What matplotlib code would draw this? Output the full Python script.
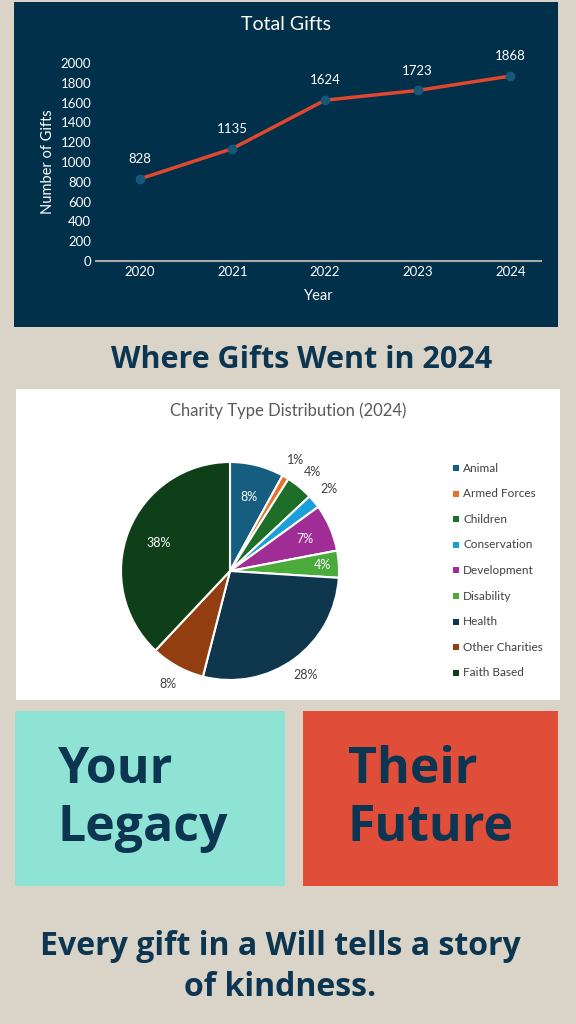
import matplotlib.pyplot as plt
from matplotlib.patches import Rectangle
import numpy as np

years = ["2020", "2021", "2022", "2023", "2024"]
gifts = [828, 1135, 1624, 1723, 1868]
categories = ["Animal", "Armed Forces", "Children", "Conservation", "Development",
              "Disability", "Health", "Other Charities", "Faith Based"]
shares = [8, 1, 4, 2, 7, 4, 28, 8, 38]
colors = ["#155e80", "#e8702a", "#1e6e2a", "#1a9fd8", "#a02c96",
          "#4aaa3a", "#0e374e", "#933e10", "#0f3f18"]

W, H = 576, 1024
fig = plt.figure(figsize=(W/100, H/100), dpi=100)
fig.patch.set_facecolor("#d9d4c7")
navy = "#0b3550"

def box(x, y, w, h, color):
    fig.patches.append(Rectangle((x/W, 1-(y+h)/H), w/W, h/H, transform=fig.transFigure,
                                 facecolor=color, edgecolor="none", zorder=-5))

# line chart panel
box(14, 2, 544, 325, "#01304a")
fig.text(286/W, 1-25/H, "Total Gifts", color="white", fontsize=14, ha="center", va="center", family="Lato")
ax = fig.add_axes([96/W, 1-261/H, 445/W, 198/H])
ax.set_facecolor("#01304a")
x = list(range(len(years)))
ax.plot(x, gifts, color="#e0472f", lw=2.5, marker="o", ms=6, mfc="#17587a", mec="#17587a")
for xi, v in zip(x, gifts):
    ax.annotate(str(v), (xi, v), xytext=(0, 10), textcoords="offset points", ha="center",
                va="bottom", color="white", fontsize=9.5, family="Lato")
ax.set_ylim(0, 2000)
ax.set_xlim(-0.47, 4.33)
ax.set_yticks(range(0, 2001, 200))
ax.set_xticks(x, years)
ax.tick_params(colors="white", labelsize=9.5, length=0)
for lab in ax.get_xticklabels() + ax.get_yticklabels():
    lab.set_family("Lato")
for s in ["top", "right", "left"]:
    ax.spines[s].set_visible(False)
ax.spines["bottom"].set_color("#aaaaaa")
ax.spines["bottom"].set_linewidth(1.5)
ax.set_xlabel("Year", color="white", fontsize=10.5, family="Lato", labelpad=8)
ax.set_ylabel("Number of Gifts", color="white", fontsize=10.5, family="Lato")

fig.text(302/W, 1-360/H, "Where Gifts Went in 2024", color=navy, fontsize=22,
         fontweight="bold", ha="center", va="center", family="Open Sans")

# pie panel
box(16, 389, 544, 311, "white")
fig.text(288/W, 1-411/H, "Charity Type Distribution (2024)", color="#595959", fontsize=12,
         ha="center", va="center", family="Lato")
r = 109
pax = fig.add_axes([(230-r)/W, 1-(571+r)/H, 2*r/W, 2*r/H])
wedges, _ = pax.pie(shares, colors=colors, startangle=90, counterclock=False,
                    wedgeprops=dict(edgecolor="white", linewidth=1.5))
inside = {0: 0.7, 4: 0.75, 5: 0.85, 8: 0.7}
for i, (wd, s) in enumerate(zip(wedges, shares)):
    ang = np.deg2rad((wd.theta1 + wd.theta2) / 2)
    if i in inside:
        d = inside[i]
        pax.text(d*np.cos(ang), d*np.sin(ang), f"{s}%", color="white", fontsize=9,
                 ha="center", va="center", family="Lato")
    else:
        d = 1.18
        pax.text(d*np.cos(ang), d*np.sin(ang), f"{s}%", color="#404040", fontsize=9,
                 ha="center", va="center", family="Lato")
pax.set_xlim(-1, 1)
pax.set_ylim(-1, 1)
pax.set_aspect("equal")
for i, (c, col) in enumerate(zip(categories, colors)):
    yy = 468 + i*25.6
    fig.patches.append(Rectangle((453/W, 1-(yy+3)/H), 6/W, 6/H, transform=fig.transFigure,
                                 facecolor=col, edgecolor="none"))
    fig.text(463/W, 1-yy/H, c, color="#404040", fontsize=8.5, va="center", family="Lato")

# boxes
box(15, 711, 270, 175, "#8fe3d4")
box(303, 711, 255, 175, "#e04e39")
fig.text(58/W, 1-799/H, "Your\nLegacy", color=navy, fontsize=36, fontweight="bold",
         va="center", ha="left", family="Open Sans", linespacing=1.22)
fig.text(348/W, 1-799/H, "Their\nFuture", color=navy, fontsize=36, fontweight="bold",
         va="center", ha="left", family="Open Sans", linespacing=1.22)

fig.text(280/W, 1-967/H, "Every gift in a Will tells a story\nof kindness.", color=navy,
         fontsize=23, fontweight="bold", ha="center", va="center", family="Open Sans",
         linespacing=1.3)

fig.savefig("out.png", dpi=100, facecolor=fig.get_facecolor())
